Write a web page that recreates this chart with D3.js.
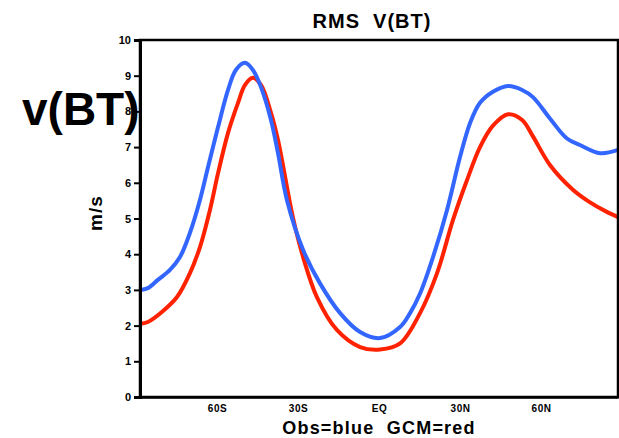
<!DOCTYPE html>
<html>
<head>
<meta charset="utf-8">
<script src="https://cdn.jsdelivr.net/npm/d3@7"></script>
<style>
  body { margin: 0; background: #fff; }
  text { font-family: "Liberation Sans", Arial, sans-serif; white-space: pre; }
</style>
</head>
<body>
<script>
var width = 619,
  height = 438;

// latitude (deg) and RMS values
var obsLat = [-88.5, -85.6, -81.9, -77.4, -73.7, -70, -66.3, -63.3, -59.6, -55.9, -53, -49.6,
  -46.7, -43.7, -40, -37.4, -34.1, -28.1, -21.9, -14.4, -7, 0.4, 7.8, 11.5, 15.2, 20, 25.2,
  30, 33.7, 37.4, 42.2, 47.8, 53, 57, 63.3, 69.6, 74.4, 81.9, 88.5];
var obsVal = [3.0, 3.05, 3.28, 3.56, 3.92, 4.6, 5.52, 6.44, 7.56, 8.6, 9.16, 9.36,
  9.16, 8.68, 7.76, 6.83, 5.52, 4.12, 3.19, 2.35, 1.82, 1.65, 1.96, 2.35, 2.9, 3.92, 5.24,
  6.72, 7.67, 8.24, 8.55, 8.71, 8.6, 8.4, 7.8, 7.24, 7.06, 6.83, 6.92];

var gcmLat = [-88.5, -85.6, -80.4, -74.8, -70, -66.3, -62.6, -59.6, -55.9, -52.2, -49.6,
  -46.7, -43.7, -40, -37.4, -31.9, -28.1, -23, -15.6, -7, 0.4, 7.8, 15.2, 21.5, 27.4,
  32.6, 37.4, 42.2, 47.8, 53, 57, 63.3, 71.9, 78, 84, 88.5];
var gcmVal = [2.05, 2.1, 2.38, 2.8, 3.47, 4.2, 5.24, 6.27, 7.4, 8.24, 8.74,
  8.94, 8.74, 7.96, 7.2, 5.04, 3.92, 2.8, 1.88, 1.4, 1.33, 1.5, 2.35, 3.47, 4.96,
  6.08, 7.0, 7.6, 7.92, 7.76, 7.3, 6.5, 5.8, 5.46, 5.2, 5.04];

var xTicks = [-60, -30, 0, 30, 60];
var xTickLabels = ["60S", "30S", "EQ", "30N", "60N"];
var yTicks = [0, 1, 2, 3, 4, 5, 6, 7, 8, 9, 10];

var x = d3.scaleLinear()
  .domain([-88.5, 88.5])
  .range([140, 618]);

var y = d3.scaleLinear()
  .domain([0, 10])
  .range([397, 40]);

var svg = d3.select("body").append("svg")
  .attr("width", width)
  .attr("height", height);

var line = d3.line()
  .x(function(d) { return x(d[0]); })
  .y(function(d) { return y(d[1]); })
  .curve(d3.curveCatmullRom);

svg.append("path")
  .datum(d3.zip(gcmLat, gcmVal))
  .attr("fill", "none")
  .attr("stroke", "#ff2200")
  .attr("stroke-width", 4)
  .attr("stroke-linejoin", "round")
  .attr("d", line);

svg.append("path")
  .datum(d3.zip(obsLat, obsVal))
  .attr("fill", "none")
  .attr("stroke", "#3366ff")
  .attr("stroke-width", 4)
  .attr("stroke-linejoin", "round")
  .attr("d", line);

// frame
svg.append("rect")
  .attr("x", 140)
  .attr("y", 40)
  .attr("width", 478)
  .attr("height", 357)
  .attr("fill", "none")
  .attr("stroke", "#000")
  .attr("stroke-width", 2.5);

// y axis
var yAxis = d3.axisLeft(y)
  .tickValues(yTicks)
  .tickSize(6)
  .tickPadding(3);

var yg = svg.append("g")
  .attr("transform", "translate(140,0)")
  .call(yAxis);
yg.select(".domain").attr("stroke-width", 3);
yg.selectAll(".tick line").attr("stroke-width", 2);
yg.selectAll(".tick text")
  .attr("font-size", "11px")
  .attr("font-weight", "bold")
  .attr("font-family", "DejaVu Sans, sans-serif");

// x axis
var xAxis = d3.axisBottom(x)
  .tickValues(xTicks)
  .tickSize(0)
  .tickPadding(8)
  .tickFormat(function(d, i) { return xTickLabels[i]; });

var xg = svg.append("g")
  .attr("transform", "translate(0,397)")
  .call(xAxis);
xg.select(".domain").attr("stroke-width", 2.5);
xg.selectAll(".tick text")
  .attr("font-size", "10px")
  .attr("font-weight", "bold")
  .attr("letter-spacing", "0.5px")
  .attr("font-family", "DejaVu Sans, sans-serif");

// titles
svg.append("text")
  .attr("x", 372)
  .attr("y", 28)
  .attr("text-anchor", "middle")
  .attr("font-size", "20px")
  .attr("font-weight", "bold")
  .attr("letter-spacing", "1px")
  .attr("font-family", "DejaVu Sans, sans-serif")
  .text("RMS  V(BT)");

svg.append("text")
  .attr("x", 22)
  .attr("y", 125)
  .attr("font-size", "46px")
  .attr("font-weight", "bold")
  .text("v(BT)");

svg.append("text")
  .attr("transform", "translate(102,213) rotate(-90)")
  .attr("text-anchor", "middle")
  .attr("font-size", "19px")
  .attr("font-weight", "bold")
  .attr("letter-spacing", "1px")
  .attr("font-family", "DejaVu Sans, sans-serif")
  .text("m/s");

svg.append("text")
  .attr("x", 379)
  .attr("y", 434)
  .attr("text-anchor", "middle")
  .attr("font-size", "18px")
  .attr("font-weight", "bold")
  .attr("letter-spacing", "1.2px")
  .attr("font-family", "DejaVu Sans, sans-serif")
  .text("Obs=blue  GCM=red");
</script>
</body>
</html>
